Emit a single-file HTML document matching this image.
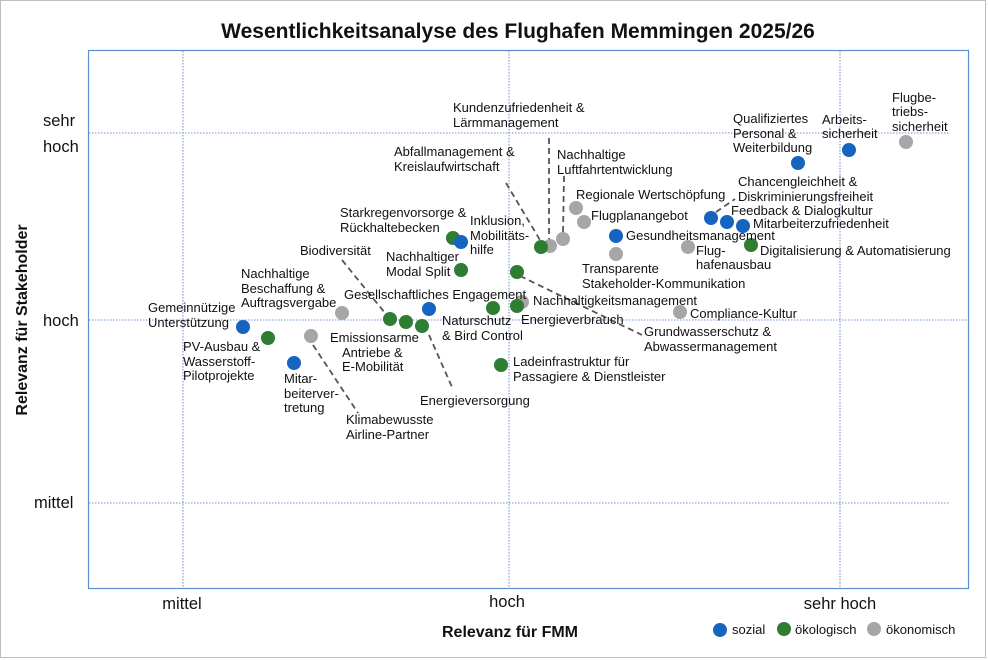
<!DOCTYPE html>
<html><head><meta charset="utf-8"><style>
body{margin:0;background:#fff}
svg{display:block}
text{font-family:"Liberation Sans",sans-serif;fill:#111}
.l{font-size:13px}
.t{font-size:16.5px}
</style></head><body>
<svg width="988" height="660" viewBox="0 0 988 660">
<rect x="0.5" y="0.5" width="985" height="657" fill="#fff" stroke="#bdbdbd"/>
<text x="518" y="38" text-anchor="middle" style="font-size:21px;font-weight:bold">Wesentlichkeitsanalyse des Flughafen Memmingen 2025/26</text>
<rect x="88.5" y="50.5" width="880" height="538" fill="none" stroke="#5b8fd0" stroke-width="1.2"/>
<g stroke="#4472c4" stroke-width="0.8" stroke-dasharray="1.5,1.5">
<line x1="183" y1="51" x2="183" y2="588"/><line x1="509" y1="51" x2="509" y2="588"/><line x1="840" y1="51" x2="840" y2="588"/>
<line x1="89" y1="133" x2="950" y2="133"/><line x1="89" y1="320" x2="968" y2="320"/><line x1="89" y1="503" x2="950" y2="503"/>
</g>
<g class="t">
<text x="43" y="126">sehr</text><text x="43" y="152">hoch</text><text x="43" y="326">hoch</text><text x="34" y="508">mittel</text>
<text x="182" y="609" text-anchor="middle">mittel</text><text x="507" y="607" text-anchor="middle">hoch</text><text x="840" y="609" text-anchor="middle">sehr hoch</text>
</g>
<text transform="translate(27,320) rotate(-90)" text-anchor="middle" style="font-size:16px;font-weight:bold">Relevanz für Stakeholder</text>
<text x="510" y="637" text-anchor="middle" style="font-size:16px;font-weight:bold">Relevanz für FMM</text>
<g stroke="#555" stroke-width="1.8" stroke-dasharray="6,4" fill="none">
<line x1="506" y1="183" x2="540" y2="240"/><line x1="549" y1="138" x2="549" y2="240"/><line x1="564" y1="176" x2="563" y2="234"/>
<line x1="342" y1="260" x2="385" y2="313"/><line x1="429" y1="335" x2="452" y2="387"/><line x1="313" y1="345" x2="358" y2="413"/>
<line x1="520" y1="276" x2="642" y2="335"/><line x1="716" y1="212" x2="735" y2="199"/>
</g>
<g fill="#a6a6a6">
<circle cx="311" cy="336" r="7"/><circle cx="342" cy="313" r="7"/><circle cx="522" cy="302" r="7"/><circle cx="550" cy="246" r="7"/><circle cx="563" cy="239" r="7"/><circle cx="576" cy="208" r="7"/><circle cx="584" cy="222" r="7"/><circle cx="616" cy="254" r="7"/><circle cx="688" cy="247" r="7"/><circle cx="680" cy="312" r="7"/><circle cx="906" cy="142" r="7"/>
</g>
<g fill="#2e7d32">
<circle cx="268" cy="338" r="7"/><circle cx="390" cy="319" r="7"/><circle cx="406" cy="322" r="7"/><circle cx="422" cy="326" r="7"/><circle cx="453" cy="238" r="7"/><circle cx="461" cy="270" r="7"/><circle cx="493" cy="308" r="7"/><circle cx="517" cy="272" r="7"/><circle cx="517" cy="306" r="7"/><circle cx="501" cy="365" r="7"/><circle cx="541" cy="247" r="7"/><circle cx="751" cy="245" r="7"/>
</g>
<g fill="#1565c0">
<circle cx="243" cy="327" r="7"/><circle cx="294" cy="363" r="7"/><circle cx="429" cy="309" r="7"/><circle cx="461" cy="242" r="7"/><circle cx="616" cy="236" r="7"/><circle cx="711" cy="218" r="7"/><circle cx="727" cy="222" r="7"/><circle cx="743" cy="226" r="7"/><circle cx="798" cy="163" r="7"/><circle cx="849" cy="150" r="7"/>
</g>
<g class="l">
<text x="453" y="112">Kundenzufriedenheit &amp;</text><text x="453" y="127">Lärmmanagement</text>
<text x="394" y="156">Abfallmanagement &amp;</text><text x="394" y="171">Kreislaufwirtschaft</text>
<text x="557" y="159">Nachhaltige</text><text x="557" y="174">Luftfahrtentwicklung</text>
<text x="576" y="199">Regionale Wertschöpfung</text>
<text x="591" y="220">Flugplanangebot</text>
<text x="626" y="240">Gesundheitsmanagement</text>
<text x="340" y="217">Starkregenvorsorge &amp;</text><text x="340" y="232">Rückhaltebecken</text>
<text x="470" y="225">Inklusion,</text><text x="470" y="240">Mobilitäts-</text><text x="470" y="254">hilfe</text>
<text x="300" y="255">Biodiversität</text>
<text x="386" y="261">Nachhaltiger</text><text x="386" y="276">Modal Split</text>
<text x="582" y="273">Transparente</text><text x="582" y="288">Stakeholder-Kommunikation</text>
<text x="241" y="278">Nachhaltige</text><text x="241" y="293">Beschaffung &amp;</text><text x="241" y="307">Auftragsvergabe</text>
<text x="344" y="299">Gesellschaftliches Engagement</text>
<text x="533" y="305">Nachhaltigkeitsmanagement</text>
<text x="148" y="312">Gemeinnützige</text><text x="148" y="327">Unterstützung</text>
<text x="442" y="325">Naturschutz</text><text x="442" y="340">&amp; Bird Control</text>
<text x="521" y="324">Energieverbrauch</text>
<text x="690" y="318">Compliance-Kultur</text>
<text x="644" y="336">Grundwasserschutz &amp;</text><text x="644" y="351">Abwassermanagement</text>
<text x="183" y="351">PV-Ausbau &amp;</text><text x="183" y="366">Wasserstoff-</text><text x="183" y="380">Pilotprojekte</text>
<text x="330" y="342">Emissionsarme</text><text x="342" y="357">Antriebe &amp;</text><text x="342" y="371">E-Mobilität</text>
<text x="513" y="366">Ladeinfrastruktur für</text><text x="513" y="381">Passagiere &amp; Dienstleister</text>
<text x="284" y="383">Mitar-</text><text x="284" y="398">beiterver-</text><text x="284" y="412">tretung</text>
<text x="420" y="405">Energieversorgung</text>
<text x="346" y="424">Klimabewusste</text><text x="346" y="439">Airline-Partner</text>
<text x="733" y="123">Qualifiziertes</text><text x="733" y="138">Personal &amp;</text><text x="733" y="152">Weiterbildung</text>
<text x="822" y="124">Arbeits-</text><text x="822" y="138">sicherheit</text>
<text x="892" y="102">Flugbe-</text><text x="892" y="116">triebs-</text><text x="892" y="131">sicherheit</text>
<text x="738" y="186">Chancengleichheit &amp;</text><text x="738" y="201">Diskriminierungsfreiheit</text>
<text x="731" y="215">Feedback &amp; Dialogkultur</text>
<text x="753" y="228">Mitarbeiterzufriedenheit</text>
<text x="760" y="255">Digitalisierung &amp; Automatisierung</text>
<text x="696" y="255">Flug-</text><text x="696" y="269">hafenausbau</text>
</g>
<circle cx="720" cy="630" r="7" fill="#1565c0"/><text x="732" y="634" class="l">sozial</text>
<circle cx="784" cy="629" r="7" fill="#2e7d32"/><text x="795" y="634" class="l">ökologisch</text>
<circle cx="874" cy="629" r="7" fill="#a6a6a6"/><text x="886" y="634" class="l">ökonomisch</text>
</svg>
</body></html>
